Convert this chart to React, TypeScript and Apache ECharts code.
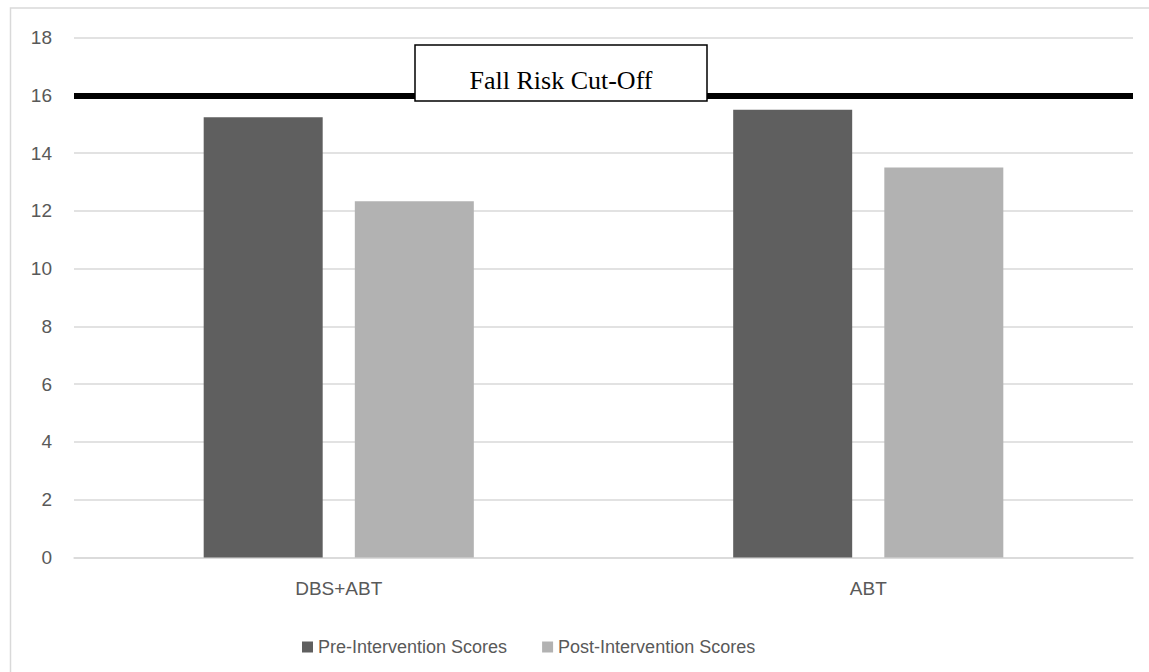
import React, { useEffect, useRef } from "react";
import * as echarts from "echarts";

const categories = ["DBS+ABT", "ABT"];
const preScores = [15.24, 15.5];
const postScores = [12.33, 13.5];
const seriesNames = ["Pre-Intervention Scores", "Post-Intervention Scores"];
const cutOffValue = 16;
const cutOffLabel = "Fall Risk Cut-Off";
const yMin = 0;
const yMax = 18;
const yInterval = 2;

export default function App() {
  const ref = useRef<HTMLDivElement>(null);
  useEffect(() => {
    if (!ref.current) return;
    const chart = echarts.init(ref.current, null, { renderer: "svg" });
    const textColor = "#595959";
    const font = "'Liberation Sans', Arial, sans-serif";
    chart.setOption({
      animation: false,
      backgroundColor: "#ffffff",
      grid: { left: 74, right: 16, top: 37.5, height: 520, containLabel: false },
      legend: {
        left: 297,
        top: 633,
        itemWidth: 11,
        itemHeight: 11,
        itemGap: 35,
        icon: "rect",
        textStyle: { color: textColor, fontSize: 18, fontFamily: font },
        data: seriesNames,
      },
      xAxis: {
        type: "category",
        data: categories,
        axisLine: { show: true, lineStyle: { color: "#d9d9d9", width: 1.5 } },
        axisTick: { show: false },
        axisLabel: { color: textColor, fontSize: 19, fontFamily: font, margin: 21 },
      },
      yAxis: {
        type: "value",
        min: yMin,
        max: yMax,
        interval: yInterval,
        axisLine: { show: false },
        axisTick: { show: false },
        splitLine: { lineStyle: { color: "#d9d9d9", width: 1.5 } },
        axisLabel: { color: textColor, fontSize: 19, fontFamily: font, margin: 22 },
      },
      series: [
        {
          name: seriesNames[0],
          type: "bar",
          data: preScores,
          barWidth: 119,
          barGap: "27%",
          itemStyle: { color: "#5f5f5f" },
          markLine: {
            silent: true,
            symbol: "none",
            label: { show: false },
            lineStyle: { color: "#000000", width: 6, type: "solid" },
            data: [{ yAxis: cutOffValue }],
            z: 5,
          },
        },
        {
          name: seriesNames[1],
          type: "bar",
          data: postScores,
          barWidth: 119,
          barGap: "27%",
          itemStyle: { color: "#b2b2b2" },
        },
      ],
      graphic: [
        {
          type: "rect",
          z: -10,
          silent: true,
          shape: { x: 10.5, y: 8, width: 1200, height: 700 },
          style: { fill: "none", stroke: "#d9d9d9", lineWidth: 1.5 },
        },
        {
          type: "group",
          z: 100,
          children: [
            {
              type: "rect",
              z: 100,
              shape: { x: 415, y: 45, width: 292, height: 56 },
              style: { fill: "#ffffff", stroke: "#000000", lineWidth: 1.5 },
            },
            {
              type: "text",
              z: 101,
              x: 561,
              y: 80,
              style: {
                text: cutOffLabel,
                fill: "#000000",
                font: "26px 'Liberation Serif', 'DejaVu Serif', serif",
                align: "center",
                verticalAlign: "middle",
              },
            },
          ],
        },
      ],
    });
    return () => chart.dispose();
  }, []);
  return (
    <div
      ref={ref}
      style={{ position: "fixed", left: 0, top: 0, width: 1149, height: 672 }}
    />
  );
}
